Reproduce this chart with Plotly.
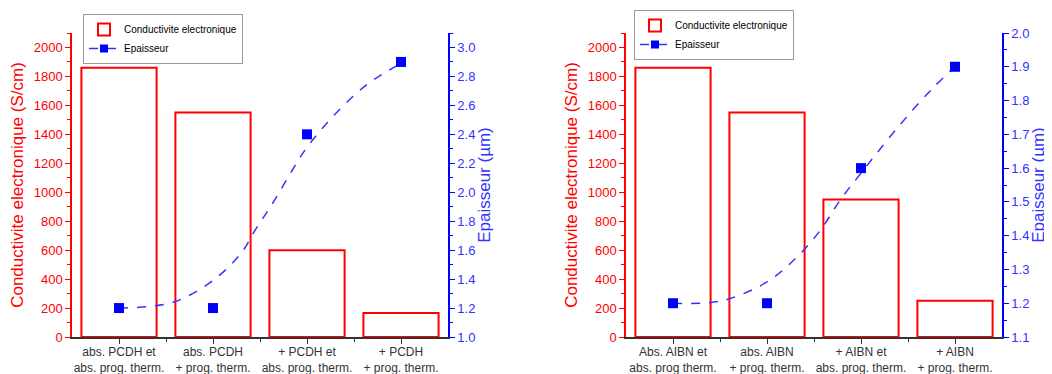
import plotly.graph_objects as go

# ---------------- data ----------------
cats_left = ["abs. PCDH et<br>abs. prog. therm.", "abs. PCDH<br>+ prog. therm.",
             "+ PCDH et<br>abs. prog. therm.", "+ PCDH<br>+ prog. therm."]
cats_right = ["Abs. AIBN et<br>abs. prog therm.", "abs. AIBN<br>+ prog. therm.",
              "+ AIBN et<br>abs. prog. therm.", "+ AIBN<br>+ prog. therm."]
xpos = [0, 1, 2, 3]

cond_left = [1860, 1550, 600, 165]
thick_left = [1.2, 1.2, 2.4, 2.9]
cond_right = [1860, 1550, 950, 250]
thick_right = [1.2, 1.2, 1.6, 1.9]

# fitted (dashed) curves
fit_left_x = [0, 0.3, 0.6, 1.0, 1.3, 1.45, 1.65, 1.86, 2.0, 2.3, 2.65, 3.0]
fit_left_y = [1.2, 1.21, 1.245, 1.39, 1.58, 1.74, 1.94, 2.17, 2.31, 2.54, 2.75, 2.89]
fit_right_x = [0, 0.37, 0.61, 1.0, 1.32, 1.57, 1.78, 2.0, 2.39, 2.74, 3.0]
fit_right_y = [1.2, 1.201, 1.214, 1.263, 1.337, 1.417, 1.506, 1.585, 1.72, 1.83, 1.9]

RED = "#FF0000"
BLUE = "#0000FF"
BLUE_L = "#3333FF"
FONT = "Arial, Liberation Sans, sans-serif"

# the page body has an 8px margin: the figure is sized to fit the window
OFF = 8
W, H = 1052 - OFF, 374 - OFF
def px(x):
    return (x - OFF) / W
def py(y):
    return 1 - (y - OFF) / H

fig = go.Figure()

panels = [
    dict(cats=cats_left, cond=cond_left, thick=thick_left, fx=fit_left_x, fy=fit_left_y,
         xa="x", ya="y", ya2="y2", legend="legend"),
    dict(cats=cats_right, cond=cond_right, thick=thick_right, fx=fit_right_x, fy=fit_right_y,
         xa="x2", ya="y3", ya2="y4", legend="legend2"),
]

for p in panels:
    fig.add_trace(go.Bar(x=xpos, y=p["cond"], width=0.8, name="Conductivite electronique",
                         marker=dict(color="white", line=dict(color=RED, width=2)),
                         xaxis=p["xa"], yaxis=p["ya"], legend=p["legend"], showlegend=True))
    fig.add_trace(go.Scatter(x=p["fx"], y=p["fy"], mode="lines", line_shape="spline",
                             line=dict(color=BLUE_L, width=1.5, dash="dash"),
                             xaxis=p["xa"], yaxis=p["ya2"], showlegend=False, hoverinfo="skip"))
    fig.add_trace(go.Scatter(x=xpos, y=p["thick"], mode="markers", name="Epaisseur",
                             marker=dict(symbol="square", size=10, color=BLUE),
                             xaxis=p["xa"], yaxis=p["ya2"], showlegend=False))
    # legend entry for Epaisseur (dashed line with square marker)
    fig.add_trace(go.Scatter(x=[None], y=[None], mode="lines+markers", name="Epaisseur",
                             line=dict(color=BLUE_L, width=1.5, dash="dash"),
                             marker=dict(symbol="square", size=8, color=BLUE),
                             xaxis=p["xa"], yaxis=p["ya2"], legend=p["legend"], showlegend=True))

ydom = [py(337), py(33)]
xdom1 = [px(72), px(448)]
xdom2 = [px(626), px(1002)]

def xaxis_cfg(dom, cats, anchor):
    return dict(domain=dom, range=[-0.5, 3.5], anchor=anchor, automargin=False,
                tickvals=xpos, ticktext=cats, showgrid=False, zeroline=False,
                showline=True, linecolor="#333333", linewidth=1.5,
                ticks="outside", ticklen=5, tickcolor="#333333", ticklabelstandoff=-2,
                minor=dict(tickvals=[0.5, 1.5, 2.5], ticks="outside", ticklen=3, tickcolor="#333333"),
                tickfont=dict(family=FONT, size=12, color="#333333"))

def yleft_cfg(anchor):
    return dict(domain=ydom, range=[0, 2100], anchor=anchor, side="left", automargin=False,
                tickvals=[0, 200, 400, 600, 800, 1000, 1200, 1400, 1600, 1800, 2000],
                showgrid=False, zeroline=False, showline=True, linecolor=RED, linewidth=1.5,
                ticks="outside", ticklen=5, tickcolor=RED,
                minor=dict(dtick=100, ticks="outside", ticklen=3, tickcolor=RED),
                tickfont=dict(family=FONT, size=13, color=RED),
                title=dict(text="Conductivite electronique (S/cm)", standoff=6,
                           font=dict(family=FONT, size=17, color=RED)))

def yright_cfg(overlay, anchor, rng, dtick, mdtick, fmt):
    return dict(domain=ydom, range=rng, overlaying=overlay, anchor=anchor, side="right",
                automargin=False, dtick=dtick, tick0=rng[0], tickformat=fmt,
                showgrid=False, zeroline=False, showline=True, linecolor=BLUE, linewidth=1.5,
                ticks="outside", ticklen=5, tickcolor=BLUE,
                minor=dict(dtick=mdtick, ticks="outside", ticklen=3, tickcolor=BLUE),
                tickfont=dict(family=FONT, size=13, color=BLUE_L),
                title=dict(text="Epaisseur (\u00b5m)", standoff=2,
                           font=dict(family=FONT, size=17, color=BLUE_L)))

leg_common = dict(bgcolor="white", bordercolor="#999999", borderwidth=1,
                  font=dict(family=FONT, size=10, color="black"),
                  xanchor="left", yanchor="top", tracegroupgap=0, itemwidth=30)

fig.update_layout(
    template="none",
    width=W, height=H, margin=dict(l=0, r=0, t=0, b=0, autoexpand=False),
    paper_bgcolor="white", plot_bgcolor="white",
    barmode="overlay", font=dict(family=FONT),
    xaxis=xaxis_cfg(xdom1, cats_left, "y"),
    xaxis2=xaxis_cfg(xdom2, cats_right, "y3"),
    yaxis=yleft_cfg("x"),
    yaxis2=yright_cfg("y", "x", [1.0, 3.1], 0.2, 0.1, ".1f"),
    yaxis3=yleft_cfg("x2"),
    yaxis4=yright_cfg("y3", "x2", [1.1, 2.0], 0.1, 0.05, ".1f"),
    legend=dict(x=px(83), y=py(14), **leg_common),
    legend2=dict(x=px(634), y=py(10), **leg_common),
)

fig.write_html("out.html")
